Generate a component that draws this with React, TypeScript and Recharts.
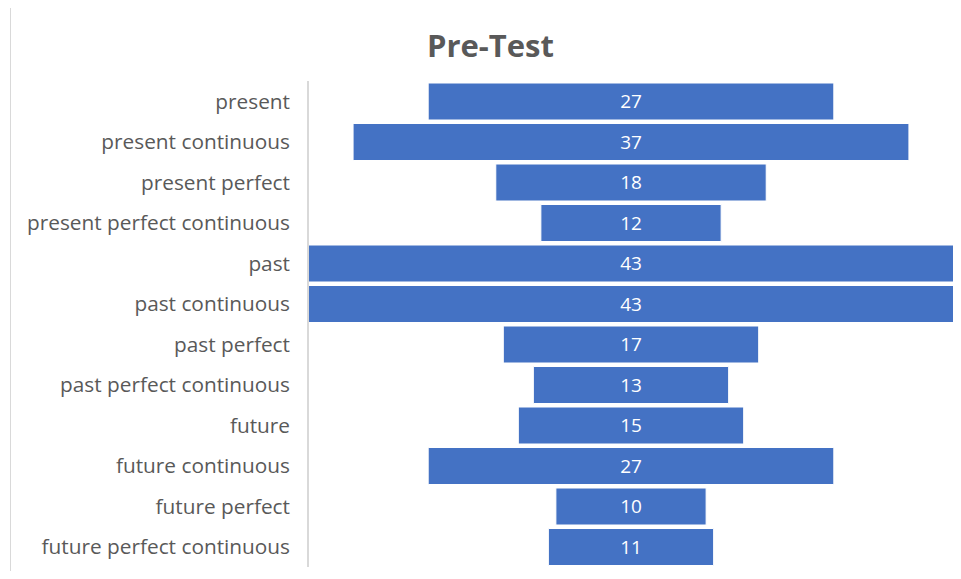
import { BarChart, Bar, XAxis, YAxis, LabelList } from 'recharts';

const tenses = [
  'present',
  'present continuous',
  'present perfect',
  'present perfect continuous',
  'past',
  'past continuous',
  'past perfect',
  'past perfect continuous',
  'future',
  'future continuous',
  'future perfect',
  'future perfect continuous',
];

const scores = [27, 37, 18, 12, 43, 43, 17, 13, 15, 27, 10, 11];

const maxScore = 43;

// offset bar keeps each score bar centred, like a funnel
const data = tenses.map((name, i) => ({
  name,
  offset: (maxScore - scores[i]) / 2,
  score: scores[i],
}));

const App = () => {
  return (
    <div
      style={{
        position: 'relative',
        width: 961,
        height: 579,
        margin: -8,
        overflow: 'hidden',
        background: '#fff',
        fontFamily: '"Open Sans", sans-serif',
      }}
    >
      <div
        style={{
          position: 'absolute',
          left: 10,
          top: 7,
          width: 1000,
          height: 600,
          border: '1px solid #d9d9d9',
        }}
      />
      <div
        style={{
          position: 'absolute',
          left: 0,
          top: 24,
          width: 981,
          textAlign: 'center',
          fontSize: 31,
          fontWeight: 700,
          color: '#595959',
        }}
      >
        Pre-Test
      </div>
      <BarChart
        width={961}
        height={579}
        data={data}
        layout='vertical'
        barSize={37}
        margin={{ top: 81, right: 7, left: 0, bottom: 12 }}
        style={{ position: 'absolute', left: 0, top: 0 }}
      >
        <XAxis type='number' domain={[0, maxScore]} hide={true} />
        <YAxis
          type='category'
          dataKey='name'
          width={308}
          tickLine={false}
          axisLine={{ stroke: '#d9d9d9', strokeWidth: 2 }}
          tick={{ fill: '#595959', fontSize: 20.8 }}
          tickMargin={12}
          interval={0}
        />
        <Bar
          dataKey='offset'
          stackId='a'
          fill='transparent'
          isAnimationActive={false}
        />
        <Bar
          dataKey='score'
          stackId='a'
          fill='#4472c4'
          stroke='#ffffff'
          strokeWidth={1}
          isAnimationActive={false}
        >
          <LabelList
            dataKey='score'
            position='center'
            fill='#ffffff'
            fontSize={19}
          />
        </Bar>
      </BarChart>
    </div>
  );
};

export default App;
